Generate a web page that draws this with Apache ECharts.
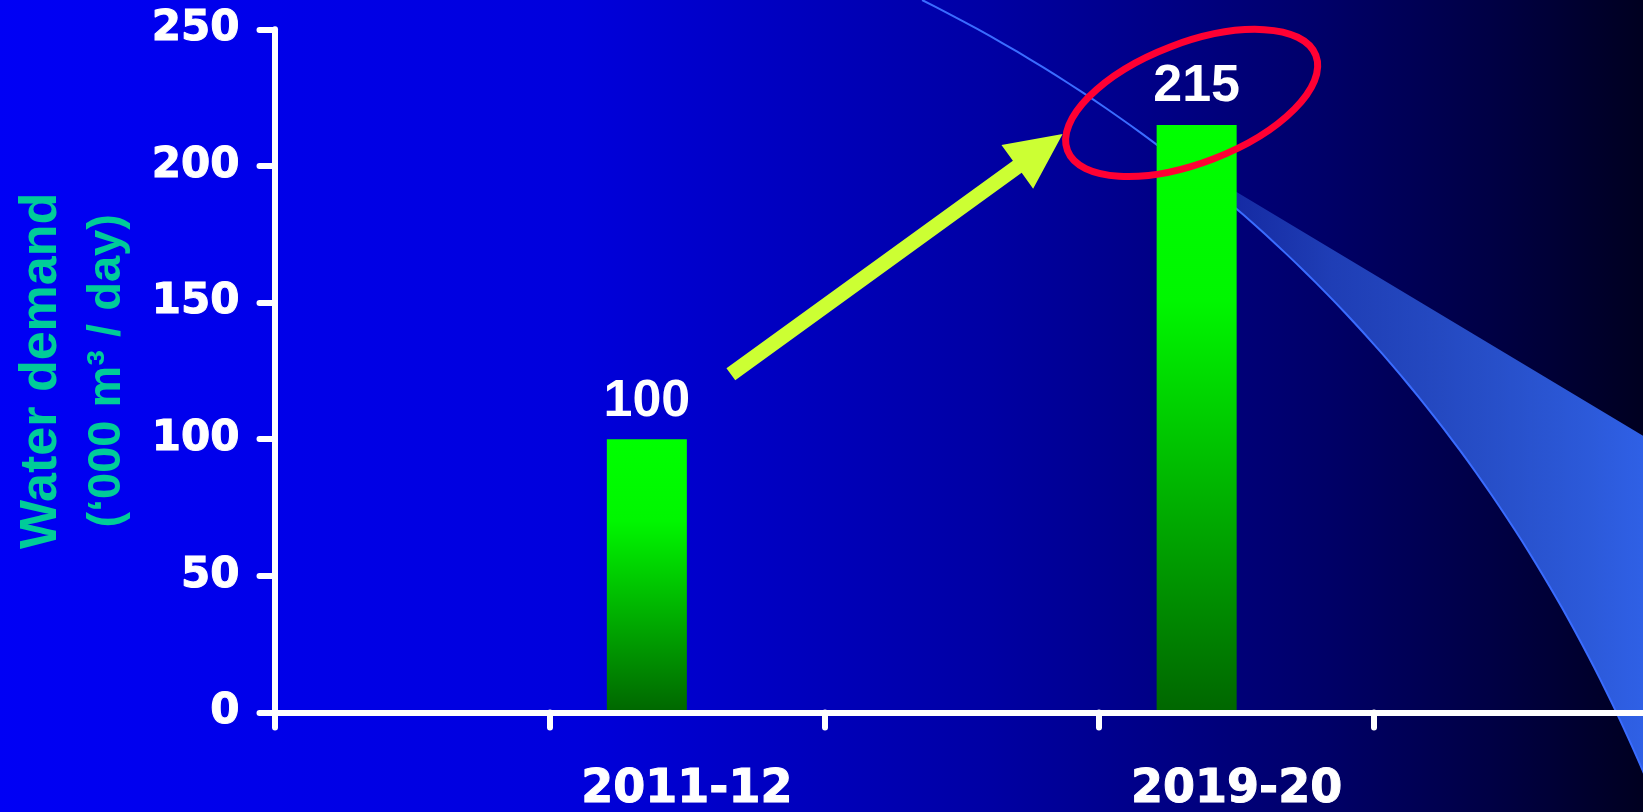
<!DOCTYPE html>
<html>
<head>
<meta charset="utf-8">
<title>Water demand</title>
<script src="https://cdn.jsdelivr.net/npm/echarts@6/dist/echarts.min.js"></script>
<style>
  html, body { margin: 0; padding: 0; width: 100%; height: 100%; overflow: hidden; }
  #chart {
    width: 1643px; height: 812px;
    background: linear-gradient(90deg, #0000f5 0%, #0000dc 35%, #0000a4 60%, #00006a 80%, #000040 92%, #000020 100%);
  }
</style>
</head>
<body>
<div id="chart"></div>
<script>
// Categories along the bottom axis (empty slots keep the spacing of the axis ticks)
const categories = ['', '2011-12', '', '2019-20', ''];
// Water demand, thousand cubic metres per day
const demand = [null, 100, null, 215, null];
// Empty companion series: reserves the right half of each category slot
const companion = [null, null, null, null, null];
// Value axis range
const yMin = 0;
const yMax = 250;
const yStep = 50;
// Axis title lines
const titleMain = 'Water demand';
const titleUnit = '(\u2018000 m\u00b3 / day)';

const BAR_W = 80;
const WHITE = '#ffffff';
const AXIS_W = 6;

const chart = echarts.init(document.getElementById('chart'), null, { renderer: 'canvas' });

const barFill = new echarts.graphic.LinearGradient(0, 0, 0, 1, [
  { offset: 0, color: '#00ff00' },
  { offset: 0.3, color: '#00f600' },
  { offset: 1, color: '#006600' }
]);

const tickFont = {
  color: WHITE, fontFamily: 'DejaVu Sans', fontWeight: 'bold',
  textBorderColor: WHITE, textBorderWidth: 1
};

const option = {
  backgroundColor: 'transparent',
  animation: false,
  grid: { left: 274.5, right: -6, top: 29.3, bottom: 99.5, containLabel: false, outerBoundsMode: 'none' },
  xAxis: {
    type: 'category',
    data: categories,
    boundaryGap: true,
    z: 3,
    axisLine: { show: true, lineStyle: { color: WHITE, width: AXIS_W, cap: 'round' } },
    axisTick: { show: true, interval: 0, length: 15, inside: false, lineStyle: { color: WHITE, width: AXIS_W, cap: 'round' } },
    axisLabel: Object.assign({ interval: 0, margin: 55, fontSize: 46 }, tickFont),
    splitLine: { show: false }
  },
  yAxis: {
    type: 'value',
    min: yMin, max: yMax, interval: yStep,
    z: 3,
    axisLine: { show: true, lineStyle: { color: WHITE, width: AXIS_W, cap: 'round' } },
    axisTick: { show: true, length: 15, inside: false, lineStyle: { color: WHITE, width: AXIS_W, cap: 'round' } },
    axisLabel: Object.assign({ margin: 35, fontSize: 42 }, tickFont),
    splitLine: { show: false },
    name: '{t|' + titleMain + '}\n{u|' + titleUnit + '}',
    nameLocation: 'middle',
    nameRotate: 90,
    nameGap: 134,
    nameMoveOverlap: false,
    nameTextStyle: {
      rich: {
        t: { fontFamily: 'Liberation Sans', fontWeight: 'bold', fontSize: 52, color: '#00cc99', lineHeight: 66, align: 'center' },
        u: { fontFamily: 'Liberation Sans', fontWeight: 'bold', fontSize: 47, color: '#00cc99', lineHeight: 66, align: 'center' }
      }
    }
  },
  series: [
    {
      name: 'Water demand',
      type: 'bar',
      data: demand,
      barWidth: BAR_W,
      barGap: '0%',
      z: 2,
      itemStyle: { color: barFill },
      label: {
        show: true, position: 'top', distance: 12,
        color: WHITE, fontFamily: 'Liberation Sans', fontWeight: 'bold', fontSize: 52
      }
    },
    {
      name: 'companion',
      type: 'bar',
      data: companion,
      barWidth: BAR_W,
      barGap: '0%',
      silent: true
    }
  ]
};

chart.setOption(option);

// Cubic bezier helper for the decorative sweep on the right
function cubic(p0, p1, p2, p3, t) {
  const s = 1 - t;
  return [
    s * s * s * p0[0] + 3 * s * s * t * p1[0] + 3 * s * t * t * p2[0] + t * t * t * p3[0],
    s * s * s * p0[1] + 3 * s * s * t * p1[1] + 3 * s * t * t * p2[1] + t * t * t * p3[1]
  ];
}

function decorate() {
  const w = chart.getWidth();
  const h = chart.getHeight();

  // Decorative sweep: thin arc plus a widening band
  const P0 = [w * 0.5612, 0], C1 = [w * 0.7894, h * 0.2309], C2 = [w * 0.9312, h * 0.5998], P3 = [w * 1.0103, h];
  const arc = [];
  for (let i = 0; i <= 80; i++) arc.push(cubic(P0, C1, C2, P3, i / 80));
  const startIdx = Math.round(0.22 * 80);
  const band = arc.slice(startIdx);
  band.push([P3[0], h * 0.549]);

  // Bar positions from the axes
  const iA = categories.indexOf('2011-12');
  const iB = categories.indexOf('2019-20');
  const pa = chart.convertToPixel({ gridIndex: 0 }, [iA, demand[iA]]);
  const pb = chart.convertToPixel({ gridIndex: 0 }, [iB, demand[iB]]);
  const aTop = [pa[0] - BAR_W / 2, pa[1]];
  const bTop = [pb[0] - BAR_W / 2, pb[1]];

  // Growth arrow from the first bar towards the circled value
  const tail = [aTop[0] + 84, aTop[1] - 65];
  const tip = [bTop[0] - 134, bTop[1] + 9];
  const dx = tip[0] - tail[0], dy = tip[1] - tail[1];
  const len = Math.hypot(dx, dy);
  const ux = dx / len, uy = dy / len, nx = -uy, ny = ux;
  const shaftHalf = 7.5, headLen = 56, headHalf = 27;
  const neck = [tip[0] - ux * headLen, tip[1] - uy * headLen];
  const arrowPts = [
    [tail[0] + nx * shaftHalf, tail[1] + ny * shaftHalf],
    [neck[0] + nx * shaftHalf, neck[1] + ny * shaftHalf],
    [neck[0] + nx * headHalf, neck[1] + ny * headHalf],
    tip,
    [neck[0] - nx * headHalf, neck[1] - ny * headHalf],
    [neck[0] - nx * shaftHalf, neck[1] - ny * shaftHalf],
    [tail[0] - nx * shaftHalf, tail[1] - ny * shaftHalf]
  ];

  chart.setOption({
    graphic: [
      {
        type: 'polygon', z: 1, silent: true,
        shape: { points: band },
        style: {
          fill: new echarts.graphic.LinearGradient(0, 0, 1, 0, [
            { offset: 0, color: 'rgba(40,80,200,0.35)' },
            { offset: 0.35, color: 'rgba(44,88,216,0.7)' },
            { offset: 1, color: 'rgba(48,98,234,1)' }
          ])
        }
      },
      {
        type: 'polyline', z: 1, silent: true,
        shape: { points: arc },
        style: { stroke: '#3a6cff', lineWidth: 2, fill: null }
      },
      {
        type: 'polygon', z: 10, silent: true,
        shape: { points: arrowPts },
        style: { fill: '#ccff33' }
      },
      {
        type: 'ellipse', z: 10, silent: true,
        x: bTop[0] - 5, y: bTop[1] - 22,
        rotation: 21 * Math.PI / 180,
        shape: { cx: 0, cy: 0, rx: 133, ry: 60 },
        style: { fill: null, stroke: '#ff0033', lineWidth: 7 }
      }
    ]
  });
}

decorate();
</script>
</body>
</html>
